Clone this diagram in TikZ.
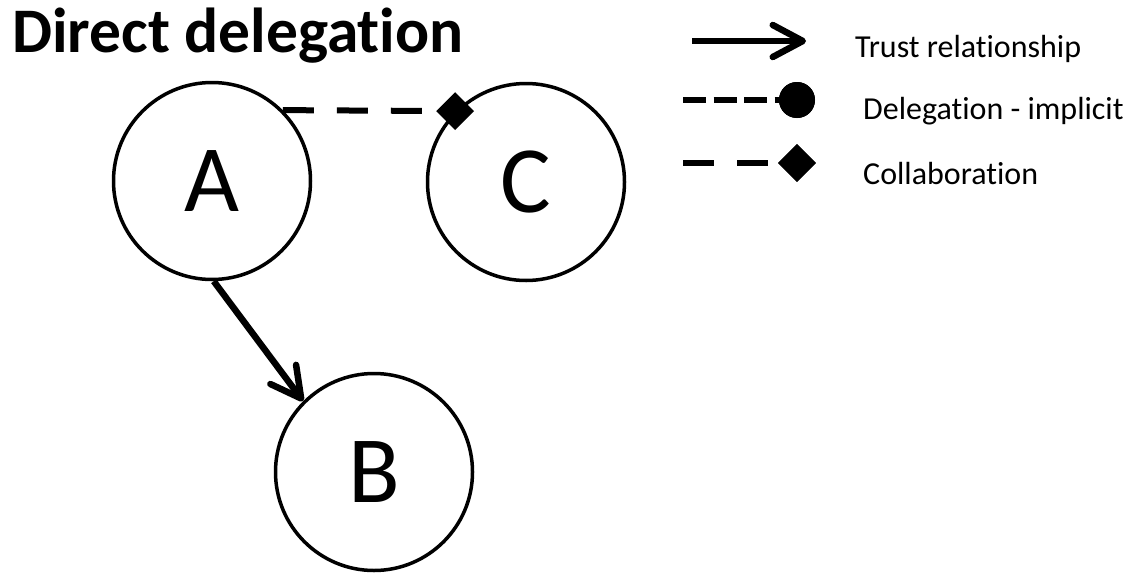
\documentclass[tikz,border=0pt]{standalone}
\usepackage{fontspec}
\setmainfont{Carlito}[Ligatures={NoCommon}]
\usetikzlibrary{arrows.meta,shapes.geometric}
\begin{document}
\begin{tikzpicture}[x=1pt,y=-1pt,
  agent/.style={circle,draw,line width=3.5pt,minimum size=197pt,inner sep=0pt,
    font=\fontsize{95}{95}\selectfont},
  trust/.style={line width=6.5pt,-{Straight Barb[length=30pt,width=32pt,round]}},
  collab/.style={line width=6pt,dash pattern=on 31pt off 23pt},
  deleg/.style={line width=6.5pt,dash pattern=on 23pt off 7.5pt},
  dotmark/.style={circle,fill,minimum size=36pt,inner sep=0pt},
  diamark/.style={diamond,fill,minimum width=38pt,minimum height=38pt,inner sep=0pt},
  legtext/.style={anchor=base west,inner sep=0pt,font=\fontsize{32}{32}\selectfont},
]
\useasboundingbox (0,0) rectangle (1131,573);

% title
\node[anchor=base west,inner sep=0pt,font=\bfseries\fontsize{63.5}{63.5}\selectfont]
  (title) at (12,52) {Direct delegation};

% agents
\node[agent] (A) at (212,181) {A};
\node[agent] (C) at (526,182) {C};
\node[agent] (B) at (374,472) {B};

% relations
\draw[trust] (A.-89) -- (B.135);
\draw[collab] (A.45) -- (C.135);
\node[diamark] (cm) at (C.135) {};

% legend
\coordinate (l1a) at (692,41);
\coordinate (l1b) at (806,41);
\draw[trust] (l1a) -- (l1b);
\node[legtext] (t1) at (855,57) {Trust relationship};

\coordinate (l2a) at (683,100);
\node[dotmark] (l2b) at (797,100) {};
\draw[deleg] (l2a) -- (l2b.center);
\node[dotmark] at (l2b) {};
\node[legtext] (t2) at (863,119) {Delegation - implicit};

\coordinate (l3a) at (683,163);
\node[diamark] (l3b) at (797,163) {};
\draw[collab] (l3a) -- (l3b.center);
\node[diamark] at (l3b) {};
\node[legtext] (t3) at (863,184) {Collaboration};
\end{tikzpicture}
\end{document}
